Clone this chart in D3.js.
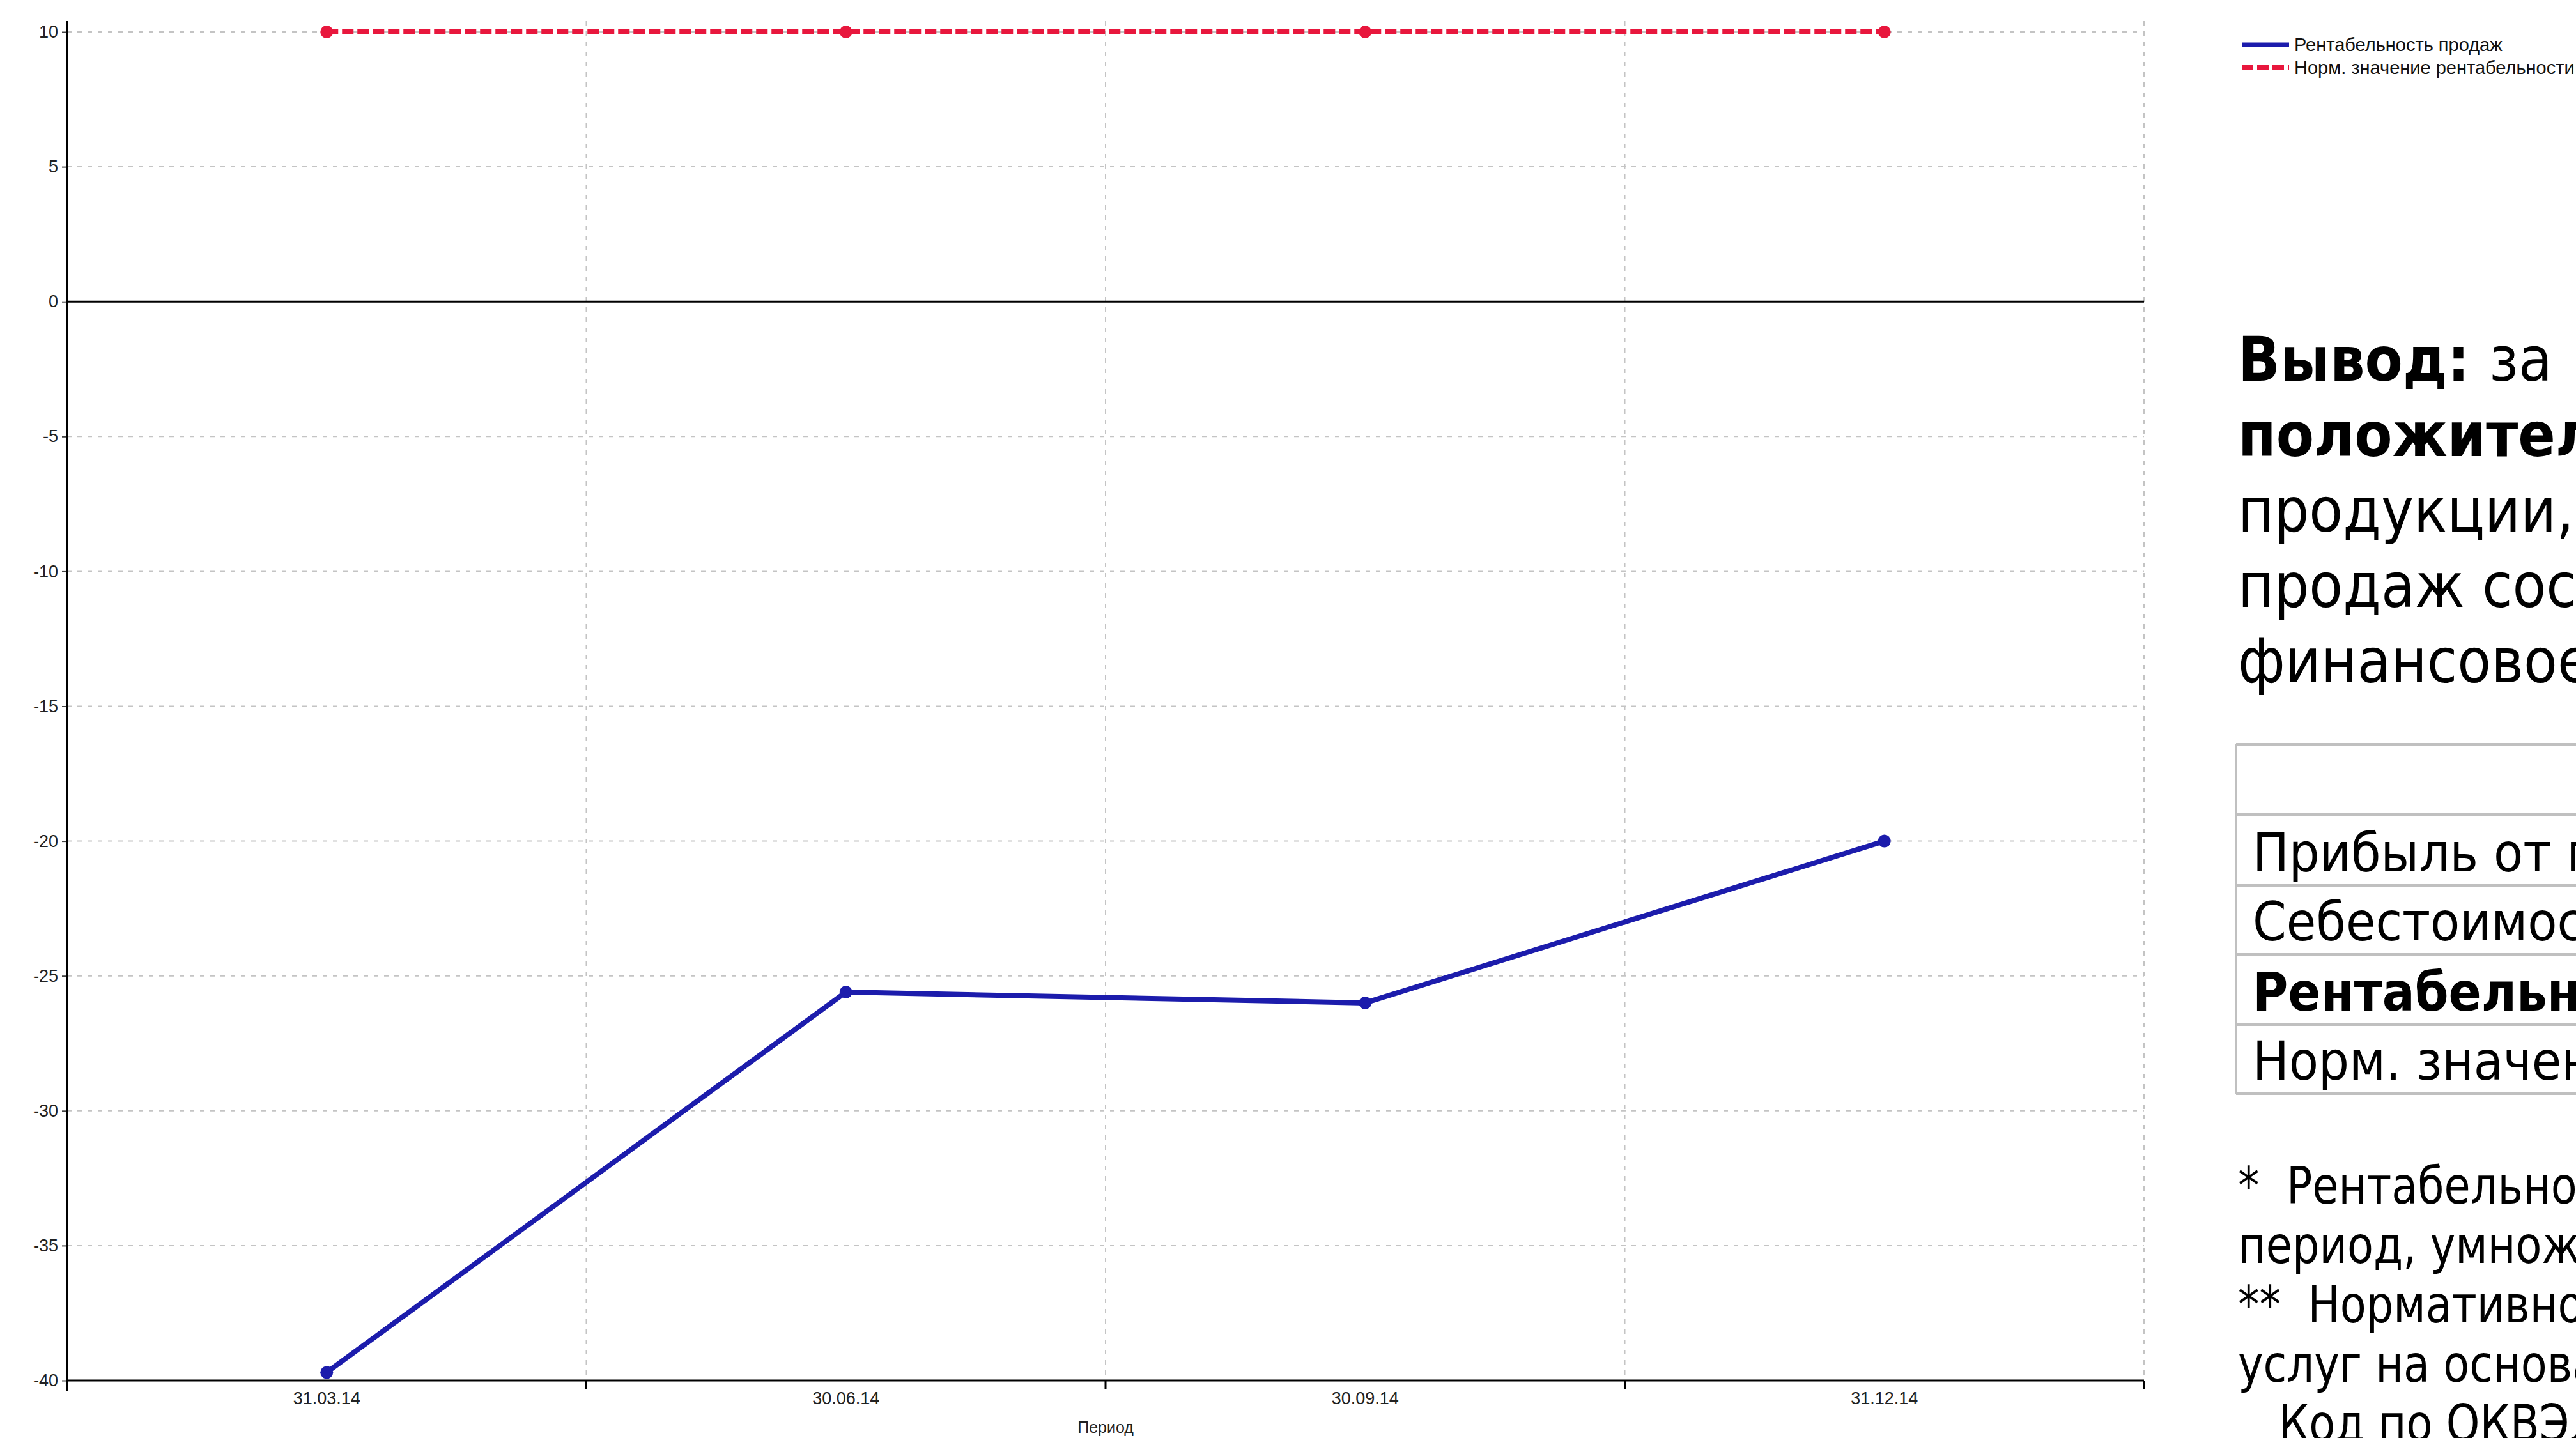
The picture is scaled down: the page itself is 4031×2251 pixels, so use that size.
<!DOCTYPE html>
<html>
<head>
<meta charset="utf-8">
<script src="https://cdn.jsdelivr.net/npm/d3@7/dist/d3.min.js"></script>
<style>
html,body{margin:0;padding:0;background:#fff;overflow:hidden;}
svg{display:block;}
</style>
</head>
<body>
<svg id="c" width="4031" height="2251"></svg>
<script>
// ---- data ----
const periods = ["31.03.14", "30.06.14", "30.09.14", "31.12.14"];
const profitability = [-39.7, -25.6, -26.0, -20.0];
const normValue = [10, 10, 10, 10];
const yTicks = [10, 5, 0, -5, -10, -15, -20, -25, -30, -35, -40];
const seriesNames = ["Рентабельность продаж", "Норм. значение рентабельности"];
const xAxisTitle = "Период";
const conclusionLines = [
  [{t: "Вывод:", b: true}],
  [{t: "положительн", b: true}],
  [{t: "продукции,", b: false}],
  [{t: "продаж сост", b: false}],
  [{t: "финансовое", b: false}]
];
const conclusionTail = "за";
const tableRows = ["", "Прибыль от продаж", "Себестоимость продаж", "Рентабельность продаж", "Норм. значение рентабельности"];
const tableBold = [false, false, false, true, false];
const footnotes = ["*  Рентабельность", "период, умножен", "**  Нормативное", "услуг на основан", "   Код по ОКВЭД"];

// ---- layout ----
const svg = d3.select("#c");
const L = 105, R = 3355, T = 50, B = 2161;
const x = d3.scaleBand().domain(periods).range([L, R]).paddingInner(0).paddingOuter(0);
const y = d3.scaleLinear().domain([-40, 10]).range([B, T]);
const cx = d => x(d) + x.bandwidth() / 2;

const g = svg.append("g");

// horizontal grid
g.append("g").selectAll("line").data(yTicks.filter(v => v !== 0 && v !== -40)).join("line")
  .attr("x1", L).attr("x2", R).attr("y1", d => y(d)).attr("y2", d => y(d))
  .attr("stroke", "#c4c4c4").attr("stroke-width", 2).attr("stroke-dasharray", "7,9");

// vertical grid at band boundaries
g.append("g").selectAll("line").data(periods).join("line")
  .attr("x1", d => x(d) + x.bandwidth()).attr("x2", d => x(d) + x.bandwidth())
  .attr("y1", 33).attr("y2", B)
  .attr("stroke", "#c4c4c4").attr("stroke-width", 2).attr("stroke-dasharray", "7,9");

// zero line
g.append("line").attr("x1", L).attr("x2", R).attr("y1", y(0)).attr("y2", y(0))
  .attr("stroke", "#000").attr("stroke-width", 3);

// y axis
const yAxis = d3.axisLeft(y).tickValues(yTicks).tickSize(8).tickPadding(6).tickFormat(d => String(d));
const ya = g.append("g").attr("transform", `translate(${L},0)`).call(yAxis);
ya.select(".domain").remove();
ya.selectAll(".tick line").attr("stroke", "#444").attr("stroke-width", 2);
ya.selectAll(".tick text").attr("font-family", "'Liberation Sans', Arial, sans-serif")
  .attr("font-size", 27).attr("fill", "#222");
g.append("line").attr("x1", L).attr("x2", L).attr("y1", 33).attr("y2", B + 16)
  .attr("stroke", "#000").attr("stroke-width", 3);

// x axis
const xAxis = d3.axisBottom(x).tickSize(0).tickPadding(18);
const xa = g.append("g").attr("transform", `translate(0,${B})`).call(xAxis);
xa.select(".domain").remove();
xa.selectAll(".tick text").attr("font-family", "'Liberation Sans', Arial, sans-serif")
  .attr("font-size", 27).attr("fill", "#222");
g.append("line").attr("x1", L).attr("x2", R).attr("y1", B).attr("y2", B)
  .attr("stroke", "#000").attr("stroke-width", 3);
g.append("g").selectAll("line").data(periods).join("line")
  .attr("x1", d => x(d) + x.bandwidth()).attr("x2", d => x(d) + x.bandwidth())
  .attr("y1", B).attr("y2", B + 14).attr("stroke", "#000").attr("stroke-width", 3);
g.append("text").attr("x", (L + R) / 2).attr("y", 2243).attr("text-anchor", "middle")
  .attr("font-family", "'Liberation Sans', Arial, sans-serif").attr("font-size", 25).attr("fill", "#222")
  .text(xAxisTitle);

// series
const line = d3.line().x((d, i) => cx(periods[i])).y(d => y(d));
const blue = "#1c1cac", red = "#e8173d";
g.append("path").datum(normValue).attr("d", line).attr("fill", "none")
  .attr("stroke", red).attr("stroke-width", 8).attr("stroke-dasharray", "18,6");
g.append("g").selectAll("circle").data(normValue).join("circle")
  .attr("cx", (d, i) => cx(periods[i])).attr("cy", d => y(d)).attr("r", 10).attr("fill", red);
g.append("path").datum(profitability).attr("d", line).attr("fill", "none")
  .attr("stroke", blue).attr("stroke-width", 8).attr("stroke-linejoin", "round");
g.append("g").selectAll("circle").data(profitability).join("circle")
  .attr("cx", (d, i) => cx(periods[i])).attr("cy", d => y(d)).attr("r", 10).attr("fill", blue);

// legend
const lg = svg.append("g");
const legY = [70, 106];
lg.append("line").attr("x1", 3508).attr("x2", 3582).attr("y1", legY[0]).attr("y2", legY[0])
  .attr("stroke", blue).attr("stroke-width", 7);
lg.append("line").attr("x1", 3508).attr("x2", 3582).attr("y1", legY[1]).attr("y2", legY[1])
  .attr("stroke", red).attr("stroke-width", 8).attr("stroke-dasharray", "18,6");
lg.selectAll("text").data(seriesNames).join("text")
  .attr("x", 3590).attr("y", (d, i) => legY[i]).attr("dy", "0.35em")
  .attr("font-family", "'Liberation Sans', Arial, sans-serif").attr("font-size", 29).attr("fill", "#111")
  .text(d => d);

// conclusion text
const font = "'DejaVu Sans Condensed', 'DejaVu Sans', sans-serif";
const tx = 3502;
const ct = svg.append("g").attr("font-family", font).attr("font-stretch", "condensed").attr("fill", "#000");
conclusionLines.forEach((ln, i) => {
  const t = ct.append("text").attr("x", tx).attr("y", 596 + i * 118).attr("font-size", 96);
  ln.forEach(s => t.append("tspan").attr("font-weight", s.b ? "bold" : "normal").text(s.t));
});
ct.append("text").attr("x", 3895).attr("y", 596).attr("font-size", 96).text(conclusionTail);

// table
const rowY = [1165, 1275, 1386, 1494, 1604, 1712];
const tb = svg.append("g");
tb.selectAll("line.h").data(rowY).join("line").attr("class", "h")
  .attr("x1", 3499).attr("x2", 4031).attr("y1", d => d).attr("y2", d => d)
  .attr("stroke", "#c0c0c0").attr("stroke-width", 4);
tb.append("line").attr("x1", 3499).attr("x2", 3499).attr("y1", rowY[0]).attr("y2", rowY[5])
  .attr("stroke", "#c0c0c0").attr("stroke-width", 4);
tb.selectAll("text").data(tableRows).join("text")
  .attr("x", 3525).attr("y", (d, i) => rowY[i + 1] - 22)
  .attr("font-family", font).attr("font-stretch", "condensed").attr("font-size", 84)
  .attr("font-weight", (d, i) => tableBold[i] ? "bold" : "normal").attr("fill", "#000")
  .text(d => d);

// footnotes
const fn = svg.append("g");
fn.selectAll("text").data(footnotes).join("text")
  .attr("transform", (d, i) => `translate(3502,${1884 + i * 93}) scale(0.93,1)`)
  .attr("font-family", font).attr("font-stretch", "condensed").attr("font-size", 80)
  .attr("fill", "#000").attr("xml:space", "preserve").style("white-space", "pre")
  .text(d => d);
</script>
</body>
</html>
